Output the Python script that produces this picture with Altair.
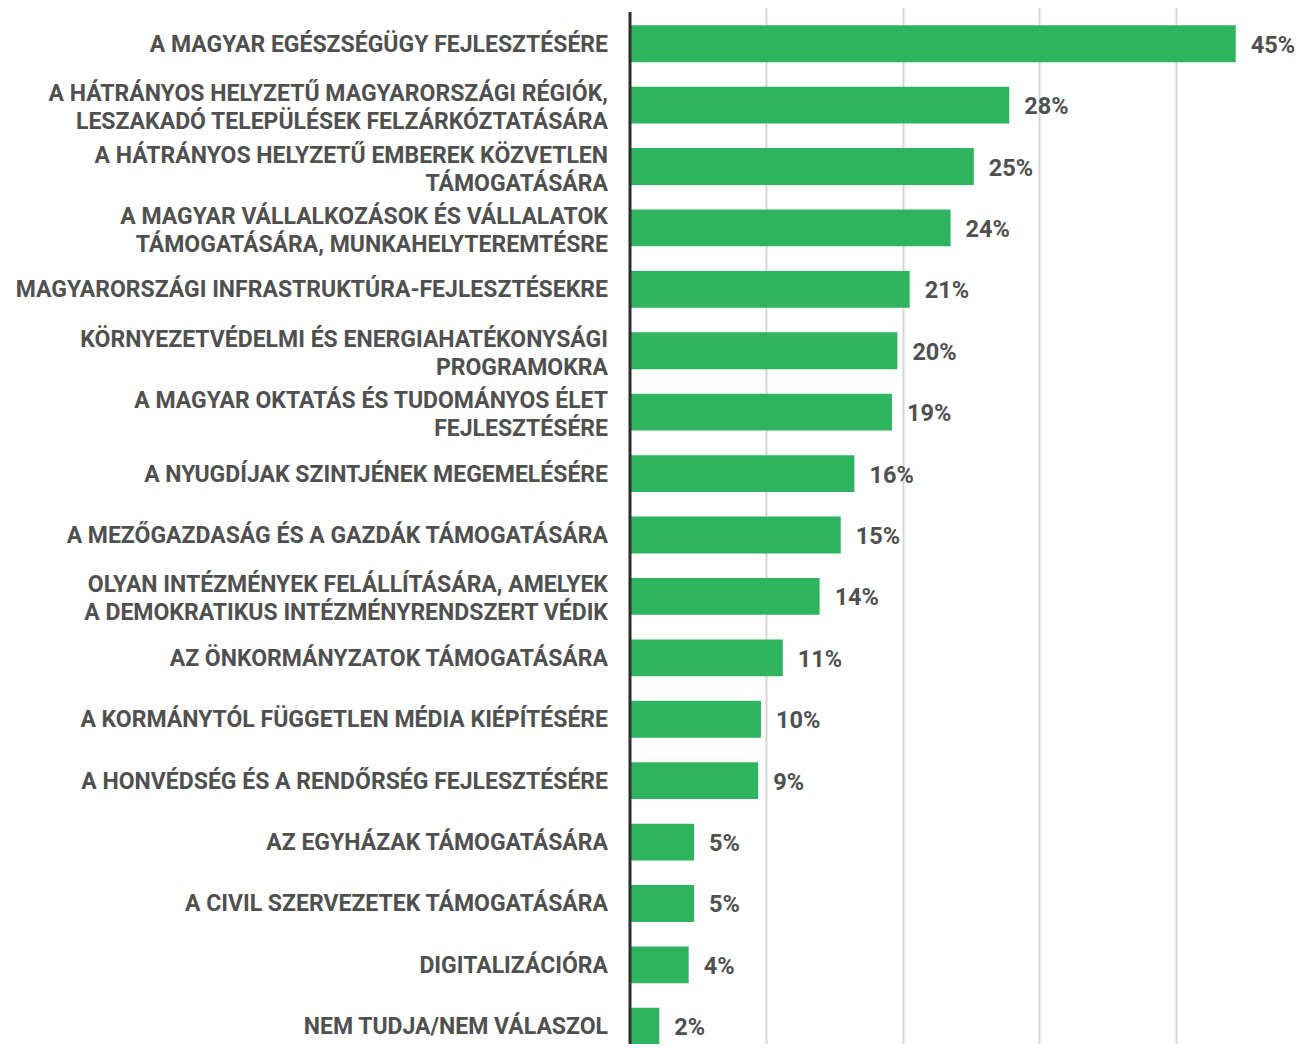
import altair as alt
import pandas as pd

categories = [
    "A MAGYAR EGÉSZSÉGÜGY FEJLESZTÉSÉRE",
    "A HÁTRÁNYOS HELYZETŰ MAGYARORSZÁGI RÉGIÓK,\nLESZAKADÓ TELEPÜLÉSEK FELZÁRKÓZTATÁSÁRA",
    "A HÁTRÁNYOS HELYZETŰ EMBEREK KÖZVETLEN\nTÁMOGATÁSÁRA",
    "A MAGYAR VÁLLALKOZÁSOK ÉS VÁLLALATOK\nTÁMOGATÁSÁRA, MUNKAHELYTEREMTÉSRE",
    "MAGYARORSZÁGI INFRASTRUKTÚRA-FEJLESZTÉSEKRE",
    "KÖRNYEZETVÉDELMI ÉS ENERGIAHATÉKONYSÁGI\nPROGRAMOKRA",
    "A MAGYAR OKTATÁS ÉS TUDOMÁNYOS ÉLET\nFEJLESZTÉSÉRE",
    "A NYUGDÍJAK SZINTJÉNEK MEGEMELÉSÉRE",
    "A MEZŐGAZDASÁG ÉS A GAZDÁK TÁMOGATÁSÁRA",
    "OLYAN INTÉZMÉNYEK FELÁLLÍTÁSÁRA, AMELYEK\nA DEMOKRATIKUS INTÉZMÉNYRENDSZERT VÉDIK",
    "AZ ÖNKORMÁNYZATOK TÁMOGATÁSÁRA",
    "A KORMÁNYTÓL FÜGGETLEN MÉDIA KIÉPÍTÉSÉRE",
    "A HONVÉDSÉG ÉS A RENDŐRSÉG FEJLESZTÉSÉRE",
    "AZ EGYHÁZAK TÁMOGATÁSÁRA",
    "A CIVIL SZERVEZETEK TÁMOGATÁSÁRA",
    "DIGITALIZÁCIÓRA",
    "NEM TUDJA/NEM VÁLASZOL",
]
values = [44.4, 27.8, 25.2, 23.5, 20.5, 19.6, 19.2, 16.45, 15.45, 13.9,
          11.2, 9.6, 9.4, 4.7, 4.7, 4.3, 2.15]
value_labels = ["45%", "28%", "25%", "24%", "21%", "20%", "19%", "16%", "15%",
                "14%", "11%", "10%", "9%", "5%", "5%", "4%", "2%"]
grid_values = [10, 20, 30, 40]

df = pd.DataFrame({
    "key": list(range(len(categories))),
    "cat": categories,
    "value": values,
    "label": value_labels,
    "multi": ["\n" in c for c in categories],
})

FONT = "Roboto"
TEXT_COLOR = "#505050"
GREEN = "#2eb35e"

x_scale = alt.Scale(domain=[0, 47.5], nice=False, zero=True)
y_enc = alt.Y("key:O", axis=None,
              scale=alt.Scale(range=[0, 1044], paddingInner=0.4, paddingOuter=0.2))

base = alt.Chart(df)

bars = base.mark_bar(color=GREEN).encode(
    x=alt.X("value:Q", scale=x_scale,
            axis=alt.Axis(values=grid_values, grid=True, labels=False,
                          ticks=False, domain=False, title=None,
                          gridColor="#d6d6d6", gridWidth=2)),
    y=y_enc,
)

vlabels = base.mark_text(align="left", baseline="middle", dx=15, dy=2,
                         font=FONT, fontSize=23.5, fontWeight="bold",
                         color=TEXT_COLOR).encode(
    x=alt.X("value:Q", scale=x_scale),
    y=y_enc,
    text="label:N",
)

clabels_single = base.transform_filter("!datum.multi").mark_text(
    align="right", baseline="middle", dy=1,
    font=FONT, fontSize=23, fontWeight="bold", color=TEXT_COLOR).encode(
    x=alt.value(-22),
    y=y_enc,
    text="cat:N",
)

clabels_multi = base.transform_filter("datum.multi").mark_text(
    align="right", baseline="middle", lineBreak="\n", lineHeight=28, dy=-11,
    font=FONT, fontSize=23, fontWeight="bold", color=TEXT_COLOR).encode(
    x=alt.value(-22),
    y=y_enc,
    text="cat:N",
)

axis_line = alt.Chart(pd.DataFrame({"v": [0]})).mark_rule(
    color="#2e2e2e", strokeWidth=3).encode(
    x=alt.X("v:Q", scale=x_scale),
    y=alt.value(-1),
    y2=alt.value(1060),
)

chart = alt.layer(bars, vlabels, clabels_single, clabels_multi, axis_line).properties(
    width=648,
    height=1031,
    background="white",
    autosize=alt.AutoSizeParams(type="none"),
    padding={"left": 622, "top": 5, "right": 17, "bottom": 0},
).configure_view(stroke=None)

chart.save("out.html", embed_options={"renderer": "svg", "actions": False})
